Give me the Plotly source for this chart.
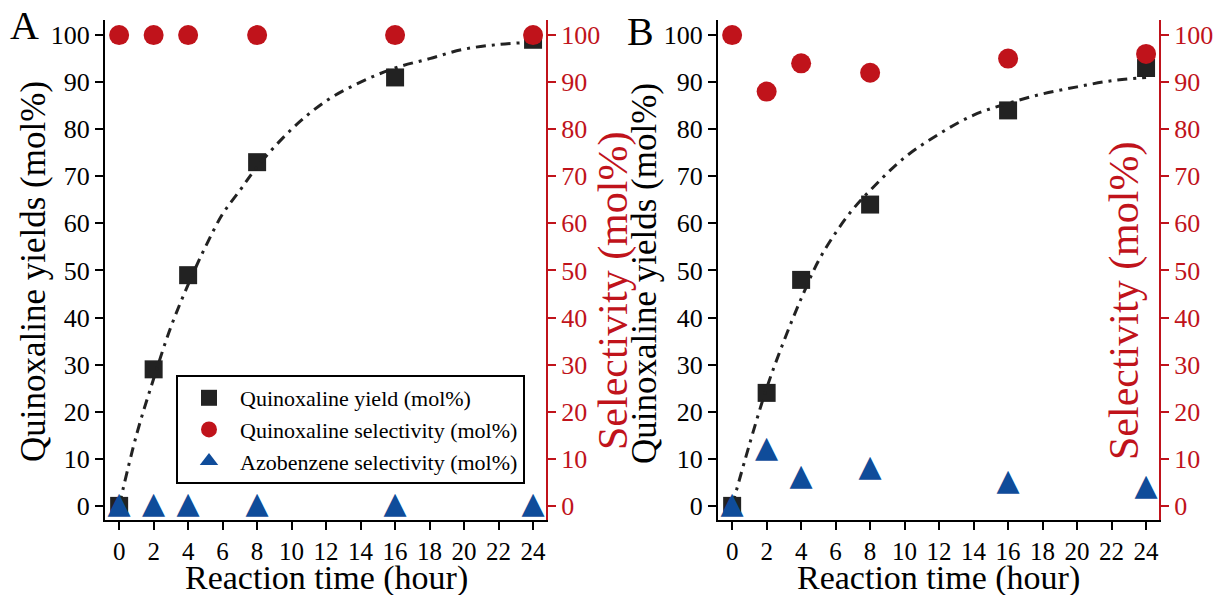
import plotly.graph_objects as go

# ---------------- data ----------------
time_h = [0, 2, 4, 8, 16, 24]

# Panel A
yield_A = [0, 29, 49, 73, 91, 99]
quin_sel_A = [100, 100, 100, 100, 100, 100]
azo_sel_A = [0, 0, 0, 0, 0, 0]

# Panel B
yield_B = [0, 24, 48, 64, 84, 93]
quin_sel_B = [100, 88, 94, 92, 95, 96]
azo_sel_B = [0, 12, 6, 8, 5, 4]

# fitted curves
fit_t = [0, 1, 2, 3, 4, 5, 6, 7, 8, 10, 12, 14, 16, 18, 20, 22, 24]
fit_A = [0, 15, 27, 38, 47, 55, 62, 67, 72, 80, 86, 90, 93, 95, 97, 98, 98.5]
fit_B = [0, 13, 25, 35, 44, 52, 58, 63, 67, 74, 79, 83, 85.5, 87.5, 89, 90.3, 91]

x_ticks = list(range(0, 25, 2))
y_ticks = list(range(0, 101, 10))

# ---------------- style ----------------
FONT = "Liberation Serif, Times New Roman, serif"
RED = "#C0131B"
BLUE = "#0F4C9A"
BLACK = "#222222"

fig = go.Figure()

def add_panel(xref, yl, yr, yld, qsel, asel, fit, show):
    fig.add_trace(go.Scatter(x=time_h, y=yld, mode="markers", xaxis=xref, yaxis=yl,
                             marker=dict(symbol="square", size=18, color=BLACK),
                             name="Quinoxaline yield (mol%)", showlegend=show, legendrank=1))
    fig.add_trace(go.Scatter(x=fit_t, y=fit, mode="lines", xaxis=xref, yaxis=yl,
                             line=dict(color=BLACK, width=3, dash="10px,6px,3px,6px", shape="spline"),
                             showlegend=False, hoverinfo="skip"))
    fig.add_trace(go.Scatter(x=time_h, y=qsel, mode="markers", xaxis=xref, yaxis=yr,
                             marker=dict(symbol="circle", size=20, color=RED),
                             name="Quinoxaline selectivity (mol%)", showlegend=show, legendrank=2))
    # equilateral triangles drawn as glyphs
    fig.add_trace(go.Scatter(x=time_h, y=asel, mode="text", xaxis=xref, yaxis=yr,
                             text=["▲"] * len(time_h), textposition="middle center",
                             textfont=dict(family="DejaVu Sans", size=30, color=BLUE),
                             showlegend=False, hoverinfo="x+y"))
    if show:
        fig.add_trace(go.Scatter(x=[None], y=[None], mode="markers", xaxis=xref, yaxis=yr,
                                 marker=dict(symbol="triangle-up", size=21, color=BLUE),
                                 name="Azobenzene selectivity (mol%)", showlegend=True, legendrank=3))

add_panel("x", "y", "y2", yield_A, quin_sel_A, azo_sel_A, fit_A, True)
add_panel("x2", "y3", "y4", yield_B, quin_sel_B, azo_sel_B, fit_B, False)

W, H = 1220, 595
dA = [105 / W, 546 / W]
dB = [718 / W, 1159 / W]
dY = [1 - 520 / H, 1 - 20 / H]
yr = [-3, 103.2]
xr = [-0.82, 24.75]

xcommon = dict(range=xr, tickmode="array", tickvals=x_ticks, ticks="outside", ticklen=8,
               tickwidth=2, tickcolor="black", showline=True, linecolor="black", linewidth=2,
               showgrid=False, zeroline=False, automargin=False,
               tickfont=dict(family=FONT, size=25, color="black"))
yleft = dict(range=yr, tickmode="array", tickvals=y_ticks, ticks="outside", ticklen=8,
             tickwidth=2, tickcolor="black", showline=True, linecolor="black", linewidth=2,
             showgrid=False, zeroline=False, automargin=False,
             tickfont=dict(family=FONT, size=26, color="black"))
yright = dict(range=yr, tickmode="array", tickvals=y_ticks, ticks="outside", ticklen=8,
              tickwidth=2, tickcolor=RED, showline=True, linecolor=RED, linewidth=2,
              showgrid=False, zeroline=False, automargin=False,
              tickfont=dict(family=FONT, size=26, color=RED), side="right")

def px_x(v):
    return v / W

def px_y(v):
    return 1 - v / H

def ann(text, x, y, size, color="black", angle=0):
    return dict(text=text, x=px_x(x), y=px_y(y), xref="paper", yref="paper",
                xanchor="center", yanchor="middle", showarrow=False, textangle=angle,
                font=dict(family=FONT, size=size, color=color))

annotations = [
    ann("A", 25, 26, 40),
    ann("B", 640, 31, 40),
    ann("Reaction time (hour)", 326, 578, 34),
    ann("Reaction time (hour)", 938, 578, 34),
    ann("Quinoxaline yields (mol%)", 34, 272, 35, angle=-90),
    ann("Quinoxaline yields (mol%)", 645, 274, 35, angle=-90),
    ann("Selectivity (mol%)", 613, 291, 42, RED, angle=-90),
    ann("Selectivity (mol%)", 1124, 301, 42, RED, angle=-90),
]

fig.update_layout(
    width=W, height=H,
    margin=dict(l=0, r=0, t=0, b=0),
    paper_bgcolor="white", plot_bgcolor="white",
    font=dict(family=FONT, color="black"),
    xaxis=dict(domain=dA, anchor="y", **xcommon),
    xaxis2=dict(domain=dB, anchor="y3", **xcommon),
    yaxis=dict(domain=dY, anchor="x", **yleft),
    yaxis2=dict(overlaying="y", anchor="x", **yright),
    yaxis3=dict(domain=dY, anchor="x2", **yleft),
    yaxis4=dict(overlaying="y3", anchor="x2", **yright),
    legend=dict(x=176 / W, y=1 - 375 / H, xanchor="left", yanchor="top",
                bordercolor="black", borderwidth=2, bgcolor="white",
                font=dict(family=FONT, size=22, color="black"),
                tracegroupgap=0, itemwidth=52),
    annotations=annotations,
)

fig.write_html("out.html", config={"displayModeBar": False},
               post_script="document.body.style.margin='0';document.body.style.overflow='hidden';")
